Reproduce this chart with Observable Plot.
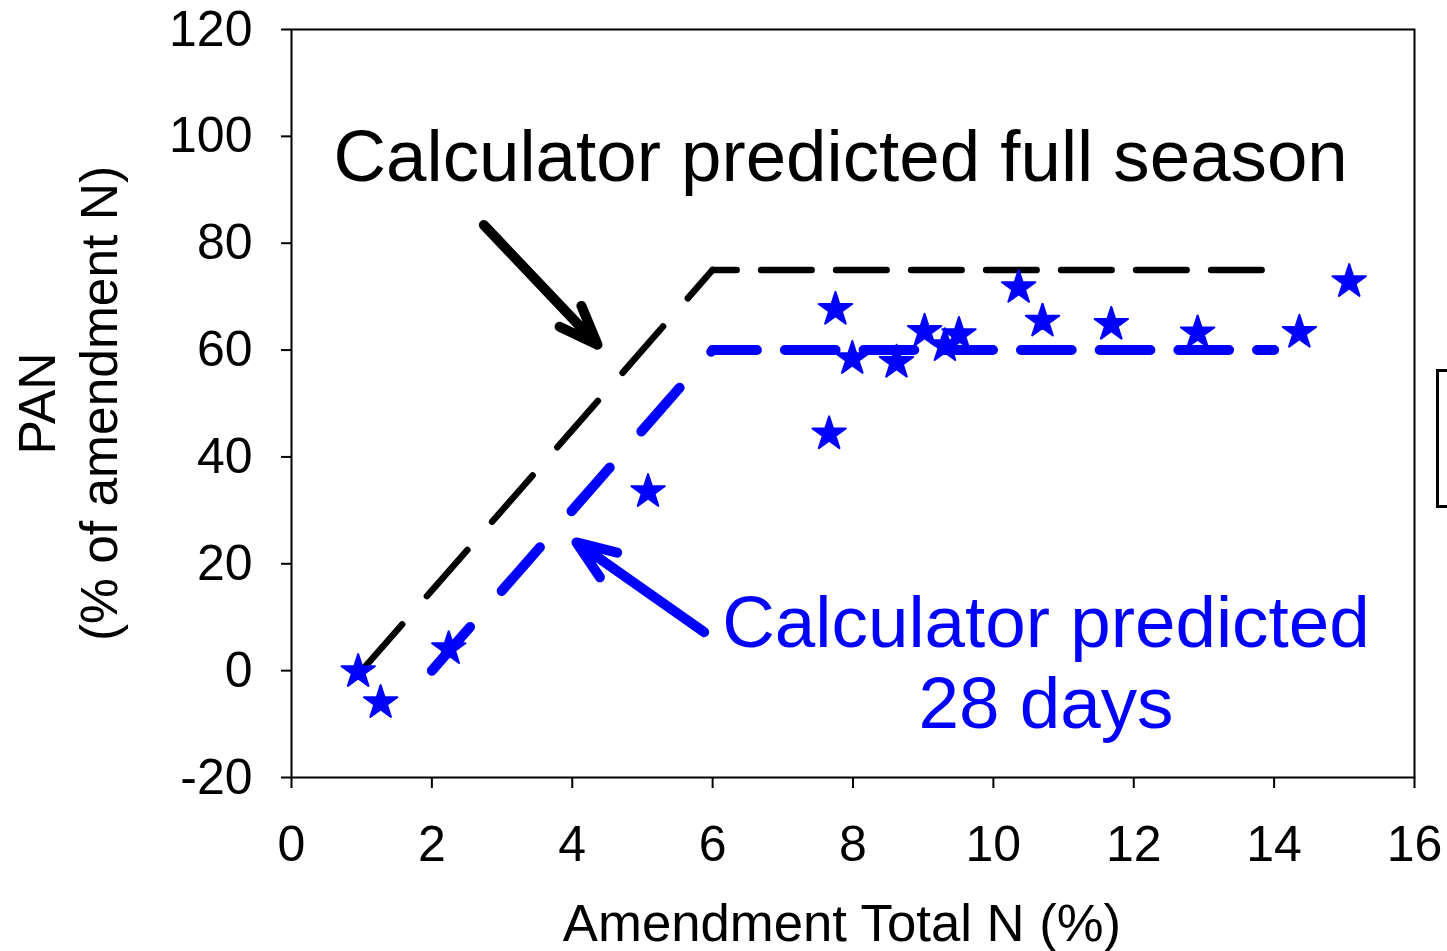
<!DOCTYPE html>
<html>
<head>
<meta charset="utf-8">
<script src="https://cdn.jsdelivr.net/npm/d3@7"></script>
<script src="https://cdn.jsdelivr.net/npm/@observablehq/plot@0.6"></script>
<style>
  html, body { margin: 0; padding: 0; background: #fff; overflow: hidden; }
  #wrap { position: relative; width: 1447px; height: 951px; }
  #legendStub { position: absolute; left: 1436px; top: 369px; width: 40px; height: 133px; border: 3px solid #000; box-sizing: content-box; }
</style>
</head>
<body>
<div id="wrap"><div id="legendStub"></div></div>
<script>
// ---- data ----
const starX = [0.95, 1.27, 2.24, 5.08, 7.66, 7.75, 7.99, 8.62, 9.02, 9.31, 9.51, 10.36, 10.70, 11.68, 12.91, 14.36, 15.07];
const starY = [-0.2, -6.0, 4.1, 33.5, 44.3, 67.6, 58.4, 57.7, 63.5, 60.8, 62.9, 71.7, 65.4, 64.8, 63.2, 63.3, 72.8];

const fullSeasonX = [1, 6, 14];
const fullSeasonY = [0, 75, 75];
const days28X = [2, 6, 14];
const days28Y = [0, 60, 60];

const xTicks = [0, 2, 4, 6, 8, 10, 12, 14, 16];
const yTicks = [-20, 0, 20, 40, 60, 80, 100, 120];

const xLabel = "Amendment Total N (%)";
const yLabel = "PAN\n(% of amendment N)";

const annoFullText = "Calculator predicted full season";
const anno28Text = "Calculator predicted\n28 days";
// annotation arrows (data units): [x1, y1, x2, y2]
const arrowFull = [2.74, 83.4, 4.36, 61.0];
const arrow28 = [5.88, 7.2, 4.06, 24.0];

// ---- build ----
const stars = starX.map((x, i) => ({x, y: starY[i]}));
const full = fullSeasonX.map((x, i) => ({x, y: fullSeasonY[i]}));
const d28 = days28X.map((x, i) => ({x, y: days28Y[i]}));

const BLUE = "#0000ff";
const fmt = d => String(d);

const chart = Plot.plot({
  width: 1447,
  height: 951,
  marginLeft: 291,
  marginRight: 33,
  marginTop: 29,
  marginBottom: 174,
  style: {fontFamily: "'Liberation Sans', Arial, Helvetica, sans-serif", fontSize: "50px", background: "#fff", color: "#000"},
  x: {domain: [0, 16]},
  y: {domain: [-20, 120]},
  marks: [
    Plot.frame({stroke: "#000", strokeWidth: 2}),
    Plot.axisX({ticks: xTicks, tickFormat: fmt, tickSize: 11, tickPadding: 37, fontSize: 50, strokeWidth: 2, label: null}),
    Plot.axisY({ticks: yTicks, tickFormat: fmt, tickSize: 10, tickPadding: 29, fontSize: 50, strokeWidth: 2, label: null}),
    // full season line (diagonal + plateau)
    Plot.line(full.slice(0, 2), {x: "x", y: "y", stroke: "#000", strokeWidth: 6.5, strokeLinecap: "round", strokeDasharray: "61.5,37.5"}),
    Plot.line(full.slice(1), {x: "x", y: "y", stroke: "#000", strokeWidth: 6.5, strokeLinecap: "round", strokeDasharray: "50.5,24.5", strokeDashoffset: 26.5}),
    // 28 days line
    Plot.line(d28.slice(0, 2), {x: "x", y: "y", stroke: BLUE, strokeWidth: 10, strokeLinecap: "round", strokeDasharray: "58,48"}),
    Plot.line(d28.slice(1), {x: "x", y: "y", stroke: BLUE, strokeWidth: 10, strokeLinecap: "round", strokeDasharray: "50.7,28", strokeDashoffset: 6.45}),
    // observations
    Plot.dot(stars, {x: "x", y: "y", symbol: "star", r: 10.5, fill: BLUE, stroke: BLUE, strokeWidth: 2, strokeLinejoin: "round"}),
    // arrows
    Plot.arrow([arrowFull], {x1: d => d[0], y1: d => d[1], x2: d => d[2], y2: d => d[3], stroke: "#000", strokeWidth: 10, headLength: 6.3, headAngle: 42}),
    Plot.arrow([arrow28], {x1: d => d[0], y1: d => d[1], x2: d => d[2], y2: d => d[3], stroke: BLUE, strokeWidth: 10, headLength: 6.3, headAngle: 42}),
    // annotation texts
    Plot.text([annoFullText], {x: [0.6], y: [91.7], text: d => d, textAnchor: "start", lineAnchor: "bottom", fontSize: 72.7, fill: "#000"}),
    Plot.text([anno28Text], {x: [10.75], y: [-10.8], text: d => d, textAnchor: "middle", lineAnchor: "bottom", lineHeight: 1.115, fontSize: 72.8, fill: BLUE}),
    // axis titles
    Plot.text([xLabel], {frameAnchor: "bottom", text: d => d, textAnchor: "middle", dx: -11, dy: 163, lineAnchor: "bottom", fontSize: 52.7, fill: "#000"}),
    Plot.text([yLabel], {frameAnchor: "left", text: d => d, textAnchor: "middle", rotate: -90, dx: -225, lineAnchor: "middle", lineHeight: 1.2, fontSize: 51.5, fill: "#000"})
  ]
});
document.getElementById("wrap").prepend(chart);
</script>
</body>
</html>
